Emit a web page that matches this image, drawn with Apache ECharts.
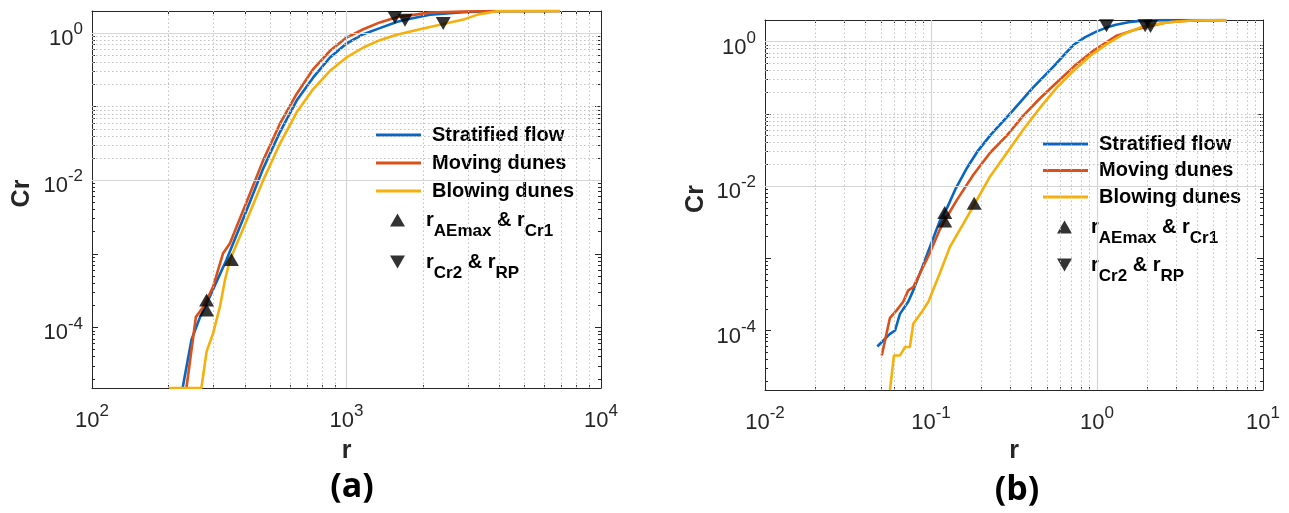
<!DOCTYPE html>
<html>
<head>
<meta charset="utf-8">
<title>Cr vs r</title>
<script src="https://cdn.jsdelivr.net/npm/echarts@6/dist/echarts.min.js"></script>
<style>
    html, body { margin: 0; padding: 0; background: #fff; }
    #chart { width: 1289px; height: 513px; }
</style>
</head>
<body>
<div id="chart"></div>
<script>
'use strict';

// panel (a): [r, Cr]
var aStratifiedFlow = [[227, 1.5e-5], [246, 6.8e-5], [266, 1.39e-4], [290, 2.6e-4], [337, 8.2e-4], [405, 3.9e-3],
    [470, 0.0143], [547, 0.0449], [637, 0.121], [740, 0.25], [861, 0.467], [1000, 0.723], [1164, 0.968],
    [1352, 1.17], [1574, 1.42], [1700, 1.52], [2128, 1.78], [2872, 1.92], [3681, 1.98], [6900, 2]];
var aMovingDunes = [[235, 1.5e-5], [249, 6.8e-5], [256, 1.39e-4], [274, 1.9e-4], [299, 3.56e-4], [327, 1.01e-3],
    [348, 1.38e-3], [405, 5.05e-3], [470, 0.0185], [547, 0.0583], [637, 0.149], [740, 0.325], [861, 0.575],
    [1000, 0.871], [1164, 1.13], [1352, 1.4], [1574, 1.65], [2128, 1.9], [2872, 1.96], [3681, 2], [6900, 2]];
var aBlowingDunes = [[201, 1.5e-5], [269, 1.5e-5], [282, 4.7e-5], [299, 8.3e-5], [318, 1.9e-4], [333, 4.4e-4],
    [348, 8.2e-4], [405, 2.84e-3], [470, 9.9e-3], [547, 0.0313], [637, 0.0839], [740, 0.174], [861, 0.308],
    [1000, 0.467], [1164, 0.638], [1352, 0.803], [1574, 0.95], [1945, 1.13], [2400, 1.33], [2910, 1.55],
    [3300, 1.8], [3890, 1.98], [6900, 2]];
var aAEmaxCr1 = [[282, 2.35e-4], [282, 1.73e-4], [353, 8.36e-4]];
var aCr2RP = [[1549, 1.63], [1698, 1.5], [2399, 1.35]];

// panel (b): [r, Cr]
var bStratifiedFlow = [[0.0475, 6.0e-5], [0.0566, 9.0e-5], [0.0607, 1.0e-4], [0.065, 1.7e-4], [0.0729, 2.5e-4],
    [0.0782, 3.6e-4], [0.0879, 7.2e-4], [0.0986, 1.45e-3], [0.113, 3.3e-3], [0.125, 5.0e-3], [0.14, 9.0e-3],
    [0.165, 0.018], [0.19, 0.03], [0.23, 0.052], [0.31, 0.11], [0.41, 0.23], [0.55, 0.46], [0.65, 0.7],
    [0.72, 0.9], [0.85, 1.16], [0.99, 1.38], [1.14, 1.57], [1.3, 1.72], [1.55, 1.86], [1.75, 1.93],
    [2.5, 1.99], [6.0, 2]];
var bMovingDunes = [[0.0505, 4.5e-5], [0.0566, 1.5e-4], [0.0621, 1.9e-4], [0.068, 2.5e-4], [0.0729, 3.6e-4],
    [0.0782, 4.0e-4], [0.0858, 6.2e-4], [0.0986, 1.2e-3], [0.113, 2.5e-3], [0.125, 3.8e-3], [0.143, 6.4e-3],
    [0.18, 0.0144], [0.227, 0.029], [0.286, 0.05], [0.36, 0.095], [0.454, 0.165], [0.57, 0.27], [0.73, 0.46],
    [0.95, 0.75], [1.3, 1.2], [1.75, 1.5], [2.05, 1.63], [2.6, 1.85], [3.5, 1.96], [6.0, 2]];
var bBlowingDunes = [[0.0566, 1.5e-5], [0.0598, 4.5e-5], [0.065, 4.5e-5], [0.0697, 5.9e-5], [0.0746, 5.9e-5],
    [0.0782, 1.24e-4], [0.0879, 1.8e-4], [0.0964, 2.5e-4], [0.113, 6.2e-4], [0.13, 1.44e-3], [0.157, 3.05e-3],
    [0.18, 5.3e-3], [0.227, 0.0136], [0.286, 0.0288], [0.36, 0.0607], [0.454, 0.122], [0.572, 0.231],
    [0.72, 0.393], [0.908, 0.635], [1.14, 0.92], [1.44, 1.27], [1.81, 1.57], [2.1, 1.7], [2.8, 1.88],
    [3.8, 1.97], [6.0, 2]];
var bAEmaxCr1 = [[0.121, 4.3e-3], [0.121, 3.3e-3], [0.182, 5.8e-3]];
var bCr2RP = [[1.14, 1.66], [1.95, 1.66], [2.1, 1.62]];

// axis ranges and labelled decades (exponents)
var aXRange = [100, 10000];
var bXRange = [0.01, 10];
var yRange = [1.5e-5, 2];
var aXExponents = [2, 3, 4];
var bXExponents = [-2, -1, 0, 1];
var yExponents = [0, -2, -4];

var lineNames = ['Stratified flow', 'Moving dunes', 'Blowing dunes'];
var markerNames = ['r_AEmax & r_Cr1', 'r_Cr2 & r_RP'];
var markerTexts = ['{m|r}{s|AEmax}{m| & r}{s|Cr1}', '{m|r}{s|Cr2}{m| & r}{s|RP}'];

var FONT = '"Liberation Sans", Arial, sans-serif';
var INK = '#262626';
var colors = ['#0866C2', '#D9501A', '#F5B00C'];
var UP = 'triangle';
var DOWN = 'path://M0,0L2,0L1,1.73Z';

var majorGrid = { color: '#d6d6d6', width: 1.2, type: 'solid' };
var minorGrid = { color: '#c2c2c2', width: 1, type: [1.5, 2.5] };

var powRich = {
    b: { fontSize: 22, lineHeight: 36, verticalAlign: 'middle', fontFamily: FONT, color: INK },
    p: { fontSize: 17, lineHeight: 16, verticalAlign: 'top', fontFamily: FONT, color: INK }
};

var markerRich = {
    m: { fontSize: 20, fontWeight: 'bold', lineHeight: 40, verticalAlign: 'middle', fontFamily: FONT, color: '#000' },
    s: { fontSize: 17, fontWeight: 'bold', lineHeight: 20, verticalAlign: 'bottom', fontFamily: FONT, color: '#000' }
};

/**
 * label formatter for decades, only exponents listed are drawn
 */
function decadeFormatter(exponents) {
    return function (value) {
        var e = Math.log10(value);
        var n = Math.round(e);
        if (Math.abs(e - n) > 1e-6 || exponents.indexOf(n) < 0) {
            return '';
        }
        return '{b|10}{p|' + n + '}';
    };
}

/**
 * matlab style grid: solid lines on labelled decades, dotted elsewhere
 */
function gridLines(range, exponents, key) {
    var lines = [];
    var k0 = Math.floor(Math.log10(range[0]));
    var k1 = Math.ceil(Math.log10(range[1]));
    for (var k = k0; k <= k1; k++) {
        for (var m = 1; m <= 9; m++) {
            var v = m * Math.pow(10, k);
            if (v <= range[0] * 1.0001 || v >= range[1] * 0.9999) { continue; }
            var item = { lineStyle: (m === 1 && exponents.indexOf(k) >= 0) ? majorGrid : minorGrid };
            item[key] = v;
            lines.push(item);
        }
    }
    return lines;
}

function logAxis(gridIndex, range, position, opts) {
    return Object.assign({
        type: 'log',
        logBase: 10,
        gridIndex: gridIndex,
        position: position,
        min: range[0],
        max: range[1],
        axisLine: { show: true, onZero: false, lineStyle: { color: INK, width: 1 } },
        axisTick: { show: true, inside: true, length: 6, lineStyle: { color: INK } },
        axisLabel: { show: false },
        splitLine: { show: false },
        minorTick: { show: true, splitNumber: 9, length: 3, lineStyle: { color: INK } }
    }, opts || {});
}

/**
 * one legend per marker row, so the rows sit where the picture has them
 */
function markerLegend(i, left, top, pad, rich) {
    return {
        data: [{ name: markerNames[i], icon: i === 0 ? UP : DOWN }],
        orient: 'vertical',
        left: left,
        top: top,
        padding: 0,
        itemWidth: 15,
        itemHeight: 13,
        selectedMode: false,
        itemStyle: { color: '#000' },
        formatter: function () { return markerTexts[i]; },
        textStyle: { rich: rich, padding: [0, 0, 0, pad] }
    };
}

/**
 * build axes, series and legends of one panel
 */
function buildPanel(p) {
    var xi = p.index * 2, yi = p.index * 2;

    var xAxis = [
        logAxis(p.index, p.xRange, 'bottom', {
            name: 'r',
            nameLocation: 'middle',
            nameGap: p.xNameGap,
            nameTextStyle: { fontSize: 25, fontWeight: 'bold', fontFamily: FONT, color: INK },
            axisLabel: {
                show: true, margin: 3, padding: [12, 0, 0, 0], showMinLabel: true, showMaxLabel: true,
                fontSize: 22, fontFamily: FONT, formatter: decadeFormatter(p.xExponents), rich: powRich
            }
        }),
        logAxis(p.index, p.xRange, 'top')
    ];
    var yAxis = [
        logAxis(p.index, yRange, 'left', {
            name: 'Cr',
            nameLocation: 'middle',
            nameRotate: 90,
            nameGap: p.yNameGap,
            nameTextStyle: { fontSize: 25, fontWeight: 'bold', fontFamily: FONT, color: INK, padding: [0, 0, 0, 12] },
            axisLabel: {
                show: true, margin: 9, padding: [12, 0, 0, 0], showMinLabel: false, showMaxLabel: false,
                fontSize: 22, fontFamily: FONT, formatter: decadeFormatter(yExponents), rich: powRich
            }
        }),
        logAxis(p.index, yRange, 'right')
    ];

    var series = [{
        type: 'line',
        name: 'grid',
        xAxisIndex: xi, yAxisIndex: yi,
        data: [],
        z: 1,
        silent: true,
        markLine: {
            silent: true,
            symbol: ['none', 'none'],
            label: { show: false },
            emphasis: { disabled: true },
            data: gridLines(p.xRange, p.xExponents, 'xAxis').concat(gridLines(yRange, yExponents, 'yAxis'))
        }
    }];

    p.lines.forEach(function (d, i) {
        series.push({
            type: 'line',
            name: lineNames[i],
            xAxisIndex: xi, yAxisIndex: yi,
            data: d,
            symbol: 'none',
            showSymbol: false,
            z: 3 + i,
            color: colors[i],
            lineStyle: { width: 2.6, color: colors[i] }
        });
    });

    [p.up, p.down].forEach(function (d, i) {
        series.push({
            type: 'scatter',
            name: markerNames[i],
            xAxisIndex: xi, yAxisIndex: yi,
            data: d,
            symbol: i === 0 ? UP : DOWN,
            symbolSize: [15, 13],
            itemStyle: { color: '#000' },
            z: 8
        });
    });

    var legend = [{
        data: lineNames.map(function (n) { return { name: n, icon: 'rect' }; }),
        orient: 'vertical',
        left: p.lineLegend[0],
        top: p.lineLegend[1],
        padding: 0,
        itemWidth: 45,
        itemHeight: 3,
        itemGap: p.lineLegend[2],
        selectedMode: false,
        textStyle: { fontSize: 20, fontWeight: 'bold', fontFamily: FONT, color: '#000', lineHeight: 22, padding: [0, 0, 0, 6] }
    },
        markerLegend(0, p.markers[0], p.markers[1], p.markers[3], p.markerRich),
        markerLegend(1, p.markers[0], p.markers[2], p.markers[3], p.markerRich)
    ];

    return { xAxis: xAxis, yAxis: yAxis, series: series, legend: legend };
}

var panelA = buildPanel({
    index: 0,
    xRange: aXRange,
    xExponents: aXExponents,
    xNameGap: 51,
    yNameGap: 57,
    lines: [aStratifiedFlow, aMovingDunes, aBlowingDunes],
    up: aAEmaxCr1,
    down: aCr2RP,
    lineLegend: [376, 124, 6],
    markers: [390, 210, 252, 16],
    markerRich: markerRich
});

var panelB = buildPanel({
    index: 1,
    xRange: bXRange,
    xExponents: bXExponents,
    xNameGap: 49,
    yNameGap: 56,
    lines: [bStratifiedFlow, bMovingDunes, bBlowingDunes],
    up: bAEmaxCr1,
    down: bCr2RP,
    lineLegend: [1043, 133, 4.5],
    markers: [1057, 217, 255, 14],
    markerRich: markerRich
});

var chart = echarts.init(document.getElementById('chart'));

chart.setOption({
    animation: false,
    backgroundColor: '#fff',
    grid: [
        { left: 92, top: 11, width: 509, height: 377 },
        { left: 765, top: 20, width: 498, height: 370 }
    ],
    xAxis: panelA.xAxis.concat(panelB.xAxis),
    yAxis: panelA.yAxis.concat(panelB.yAxis),
    series: panelA.series.concat(panelB.series),
    legend: panelA.legend.concat(panelB.legend),
    graphic: [
        { type: 'text', x: 352, y: 487, style: { text: '(a)', font: 'bold 34px "Open Sans", sans-serif', fill: '#000', align: 'center', verticalAlign: 'middle' } },
        { type: 'text', x: 1017, y: 490, style: { text: '(b)', font: 'bold 34px "Open Sans", sans-serif', fill: '#000', align: 'center', verticalAlign: 'middle' } }
    ]
});
</script>
</body>
</html>
